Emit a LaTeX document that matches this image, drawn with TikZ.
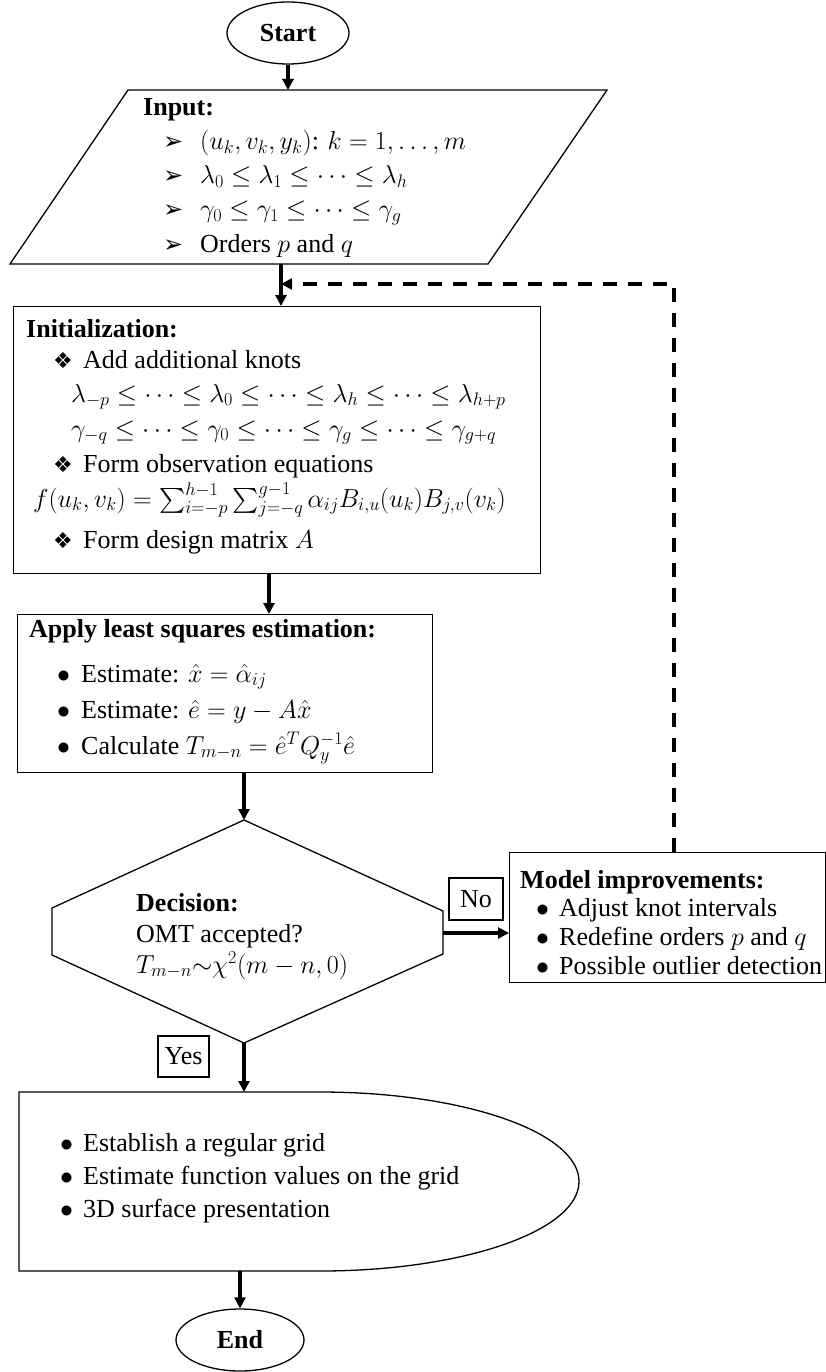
\RequirePackage{fix-cm}
\documentclass[tikz,border=0pt]{standalone}
\usepackage{exscale}
\usepackage{fontspec}
\setmainfont{Liberation Serif}
\newfontfamily\dingfont{DejaVu Sans}
\usetikzlibrary{shapes.geometric,arrows.meta}
\newcommand{\fsz}{\fontsize{26}{32}\selectfont}
\newcommand{\arrowbul}{{\dingfont\fontsize{24}{26}\selectfont ➢}}
\newcommand{\diabul}{{\dingfont\fontsize{22}{24}\selectfont ❖}}
\newcommand{\dotbul}{$\bullet$}
\begin{document}
\begin{tikzpicture}[x=1pt,y=-1pt,
  shapeline/.style={draw, line width=1.3pt},
  boxnode/.style={shapeline, inner sep=0pt, anchor=north west},
  txt/.style={anchor=base west, inner sep=0pt, font=\fsz},
  arr/.style={line width=3.2pt, -{Triangle[length=11pt,width=11pt]}},
  dasharr/.style={line width=3.6pt, dash pattern=on 14pt off 11pt, -{Triangle[length=11pt,width=11pt]}},
  labelbox/.style={draw, line width=1.1pt, inner sep=0pt, font=\fsz}
]
\useasboundingbox (0,0) rectangle (826,1372);

% Start
\node[ellipse, shapeline, minimum width=122pt, minimum height=62pt, inner sep=0pt, font=\fsz\bfseries] (start) at (288,33) {Start};

% Input parallelogram
\draw[line width=1.3pt] (10,264) -- (128,90) -- (607,90) -- (488,264) -- cycle;
\coordinate (inTop) at (288,90);
\coordinate (inBot) at (281,264);
\node[txt, font=\fsz\bfseries] (inH) at (143,116) {Input:};
\node[txt] (inB1) at (163,150) {\arrowbul};
\node[txt] (in1) at (200,150) {$(u_k,v_k,y_k)$: $k=1,\dots,m$};
\node[txt] (inB2) at (163,184) {\arrowbul};
\node[txt] (in2) at (200,184) {$\lambda_0\le\lambda_1\le\cdots\le\lambda_h$};
\node[txt] (inB3) at (163,218) {\arrowbul};
\node[txt] (in3) at (200,218) {$\gamma_0\le\gamma_1\le\cdots\le\gamma_g$};
\node[txt] (inB4) at (163,252) {\arrowbul};
\node[txt] (in4) at (200,252) {Orders $p$ and $q$};

% Initialization
\node[boxnode, minimum width=527pt, minimum height=267pt] (init) at (13,306) {};
\node[txt, font=\fsz\bfseries] (initH) at (26,337) {Initialization:};
\node[txt] (iB1) at (53,368) {\diabul};
\node[txt] (i1) at (83,368) {Add additional knots};
\node[txt] (i2) at (71,402) {$\lambda_{-p}\le\cdots\le\lambda_0\le\cdots\le\lambda_h\le\cdots\le\lambda_{h+p}$};
\node[txt] (i3) at (71,437) {$\gamma_{-q}\le\cdots\le\gamma_0\le\cdots\le\gamma_g\le\cdots\le\gamma_{g+q}$};
\node[txt] (iB4) at (53,472) {\diabul};
\node[txt] (i4) at (83,472) {Form observation equations};
\node[txt] (i5) at (33,507) {$f(u_k,v_k)=\sum_{i=-p}^{h-1}\sum_{j=-q}^{g-1}\alpha_{ij}B_{i,u}(u_k)B_{j,v}(v_k)$};
\node[txt] (iB6) at (53,548) {\diabul};
\node[txt] (i6) at (83,548) {Form design matrix $A$};

% Least squares
\node[boxnode, minimum width=415pt, minimum height=158pt] (ls) at (17,614) {};
\node[txt, font=\fsz\bfseries] (lsH) at (29,637) {Apply least squares estimation:};
\node[txt] (lB1) at (57,682) {\dotbul};
\node[txt] (l1) at (81,682) {Estimate: $\hat{x}=\hat{\alpha}_{ij}$};
\node[txt] (lB2) at (57,718) {\dotbul};
\node[txt] (l2) at (81,718) {Estimate: $\hat{e}=y-A\hat{x}$};
\node[txt] (lB3) at (57,754) {\dotbul};
\node[txt] (l3) at (81,754) {Calculate $T_{m-n}=\hat{e}^{T}Q_y^{-1}\hat{e}$};

% Decision
\draw[line width=1.3pt] (244,820) -- (443,911) -- (443,954) -- (244,1043) -- (52,955) -- (52,908) -- cycle;
\coordinate (dTop) at (244,820);
\coordinate (dBot) at (244,1043);
\coordinate (dRight) at (443,933);
\node[txt, font=\fsz\bfseries] (decH) at (136,911) {Decision:};
\node[txt] (dec1) at (136,942) {OMT accepted?};
\node[txt] (dec2) at (136,973) {$T_{m-n}{\sim}\chi^2(m-n,0)$};

% Model improvements
\node[boxnode, minimum width=316pt, minimum height=130pt] (model) at (509,852) {};
\node[txt, font=\fsz\bfseries] (mH) at (520,888) {Model improvements:};
\node[txt] (mB1) at (536,916) {\dotbul};
\node[txt] (m1) at (559,916) {Adjust knot intervals};
\node[txt] (mB2) at (536,945) {\dotbul};
\node[txt] (m2) at (559,945) {Redefine orders $p$ and $q$};
\node[txt] (mB3) at (536,974) {\dotbul};
\node[txt] (m3) at (559,974) {Possible outlier detection};
\coordinate (mTop) at (674,852);
\coordinate (corner) at (674,284);

% Output (display shape)
\draw[line width=1.3pt] (320,1092) -- (19,1092) -- (19,1271) -- (320,1271) arc[start angle=90, end angle=-90, x radius=259, y radius=89.5];
\coordinate (oTop) at (244,1092);
\coordinate (oBot) at (240,1271);
\node[txt] (oB1) at (60,1151) {\dotbul};
\node[txt] (o1) at (83,1151) {Establish a regular grid};
\node[txt] (oB2) at (60,1184) {\dotbul};
\node[txt] (o2) at (83,1184) {Estimate function values on the grid};
\node[txt] (oB3) at (60,1217) {\dotbul};
\node[txt] (o3) at (83,1217) {3D surface presentation};

% End
\node[ellipse, shapeline, minimum width=128pt, minimum height=62pt, inner sep=0pt, font=\fsz\bfseries] (end) at (240,1340) {End};

% Labels
\node[labelbox, minimum width=54pt, minimum height=42pt] (no) at (476,899) {No};
\node[labelbox, minimum width=51pt, minimum height=41pt] (yes) at (183.5,1056.5) {Yes};

% Connectors
\draw[arr] (start.south) -- (inTop);
\draw[arr] (inBot) -- (inBot |- init.north);
\draw[arr] (init.south -| 269,0) -- (ls.north -| 269,0);
\draw[arr] (ls.south -| dTop) -- (dTop);
\draw[arr] (dRight) -- (dRight -| model.west);
\draw[arr] (dBot) -- (oTop);
\draw[arr] (oBot) -- (end.north);
\draw[dasharr] (mTop) -- (corner) -- (corner -| inBot);
\end{tikzpicture}
\end{document}
